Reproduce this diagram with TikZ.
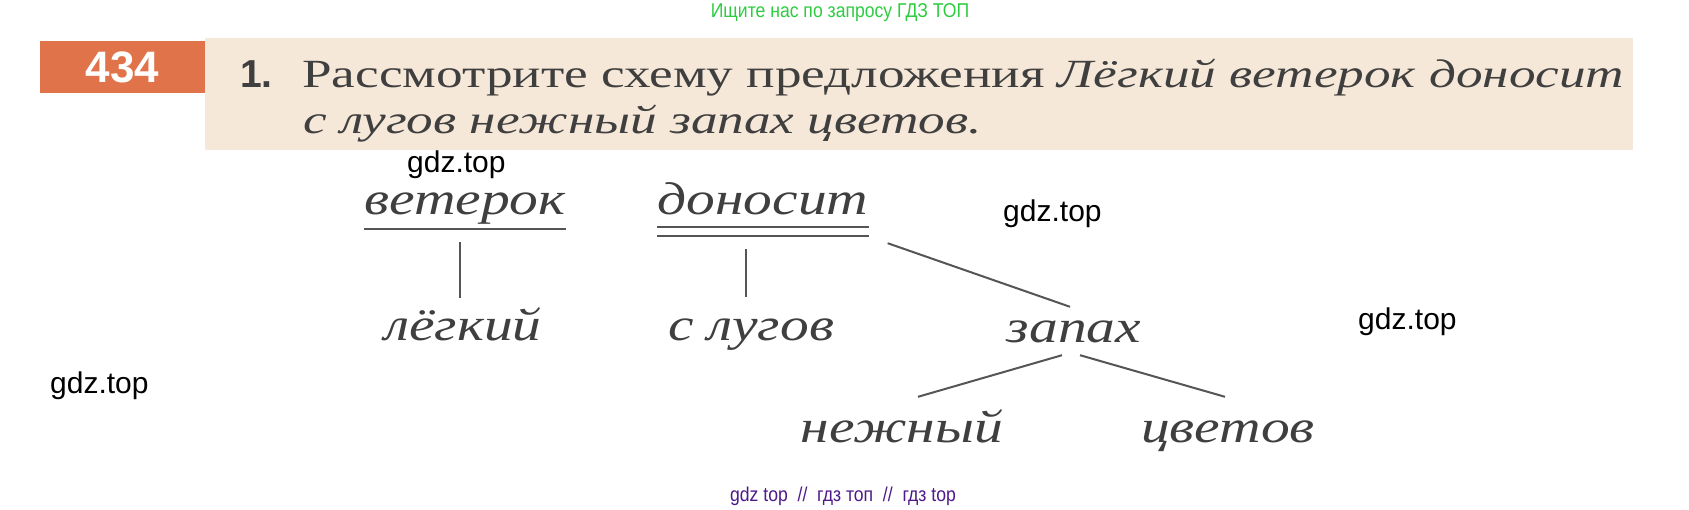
\documentclass[tikz,border=0pt]{standalone}
\usepackage{fontspec}
\setmainfont{Liberation Serif}
\newfontfamily\headfont{Liberation Serif}[FakeStretch=1.33]
\newfontfamily\wordfont{Liberation Serif}[FakeStretch=1.25]
\newfontfamily\wmfont{Liberation Sans}
\newfontfamily\narrowfont{Liberation Sans}[FakeStretch=0.88]
\usetikzlibrary{positioning}

\definecolor{inkgray}{HTML}{3F3F3F}
\definecolor{linegray}{HTML}{555555}
\definecolor{bandbeige}{HTML}{F6E8D8}
\definecolor{numorange}{HTML}{E1734B}
\definecolor{adgreen}{HTML}{2ECC40}
\definecolor{adpurple}{HTML}{4E1A8A}

\tikzset{
  word/.style={anchor=base, inner sep=0pt, text height=30pt, text depth=10pt,
    text=inkgray, font=\wordfont\itshape\fontsize{46}{52}\selectfont},
  link/.style={draw=linegray, line width=2pt},
  wm/.style={anchor=base west, inner sep=0pt, font=\wmfont\fontsize{30}{36}\selectfont},
  ad/.style={anchor=base, inner sep=0pt, font=\narrowfont\fontsize{20}{24}\selectfont},
}

\begin{document}
\begin{tikzpicture}[x=1pt,y=-1pt]
    \useasboundingbox (0,0) rectangle (1689,510);
    \fill[white] (0,0) rectangle (1689,510);

    % Shapka zadaniya
    \fill[bandbeige] (205,38) rectangle (1633,150);
    \node[fill=numorange, minimum width=165pt, minimum height=52pt, inner sep=0pt,
      text=white, font=\wmfont\bfseries\fontsize{44}{48}\selectfont] (num) at (122.5,67) {434};
    \node[anchor=base west, inner sep=0pt, text=inkgray,
      font=\wmfont\bfseries\fontsize{39}{44}\selectfont] (item) at (240,88) {1.};
    \node[anchor=base west, inner sep=0pt, text=inkgray,
      font=\headfont\fontsize{40}{44}\selectfont] (task) at (302,88)
      {Рассмотрите схему предложения \textit{Лёгкий ветерок доносит}};
    \node[anchor=base west, inner sep=0pt, text=inkgray,
      font=\headfont\itshape\fontsize{40}{44}\selectfont] (task2) at (303,134)
      {с лугов нежный запах цветов.};

    % Slova
    \node[word] (veterok) at (465,215) {ветерок};
    \node[word] (donosit) at (763,215) {доносит};
    \node[word] (legkiy)  at (463,341) {лёгкий};
    \node[word] (slugov)  at (751,341) {с лугов};
    \node[word] (zapah)   at (1074,343) {запах};
    \node[word] (nezhny)  at (902,442) {нежный};
    \node[word] (tsvetov) at (1228,442) {цветов};

    % Podcherkivaniya
    \draw[link] ([yshift=-4pt]veterok.south west) -- ([yshift=-4pt]veterok.south east);
    \draw[link] ([yshift=-2pt]donosit.south west) -- ([yshift=-2pt]donosit.south east);
    \draw[link] ([yshift=-11pt]donosit.south west) -- ([yshift=-11pt]donosit.south east);

    % Svyazi
    \draw[link] ([xshift=-5pt,yshift=-17pt]veterok.south) -- ([xshift=-5pt,yshift=13pt]veterok.south |- legkiy.north);
    \draw[link] ([xshift=-5pt,yshift=-24pt]slugov.north |- donosit.south) -- ([xshift=-5pt,yshift=14pt]slugov.north);
    \draw[link] ([xshift=19pt,yshift=-18pt]donosit.south east) -- ([xshift=-4pt,yshift=6pt]zapah.north);
    \draw[link] ([xshift=-12pt,yshift=-2pt]zapah.south) -- ([xshift=16pt,yshift=15pt]nezhny.north);
    \draw[link] ([xshift=6pt,yshift=-2pt]zapah.south) -- ([xshift=-3pt,yshift=15pt]tsvetov.north);

    % Vodyanye znaki
    \node[wm] (wm1) at (50,393) {gdz.top};
    \node[wm] (wm2) at (407,173) {gdz.top};
    \node[wm] (wm3) at (1003,222) {gdz.top};
    \node[wm] (wm4) at (1358,330) {gdz.top};
    \node[ad, text=adgreen] (adtop) at (840,18) {Ищите нас по запросу ГДЗ ТОП};
    \node[ad, text=adpurple] (adbottom) at (843,501) {gdz top\ \ //\ \ гдз топ\ \ //\ \ гдз top};
\end{tikzpicture}
\end{document}
